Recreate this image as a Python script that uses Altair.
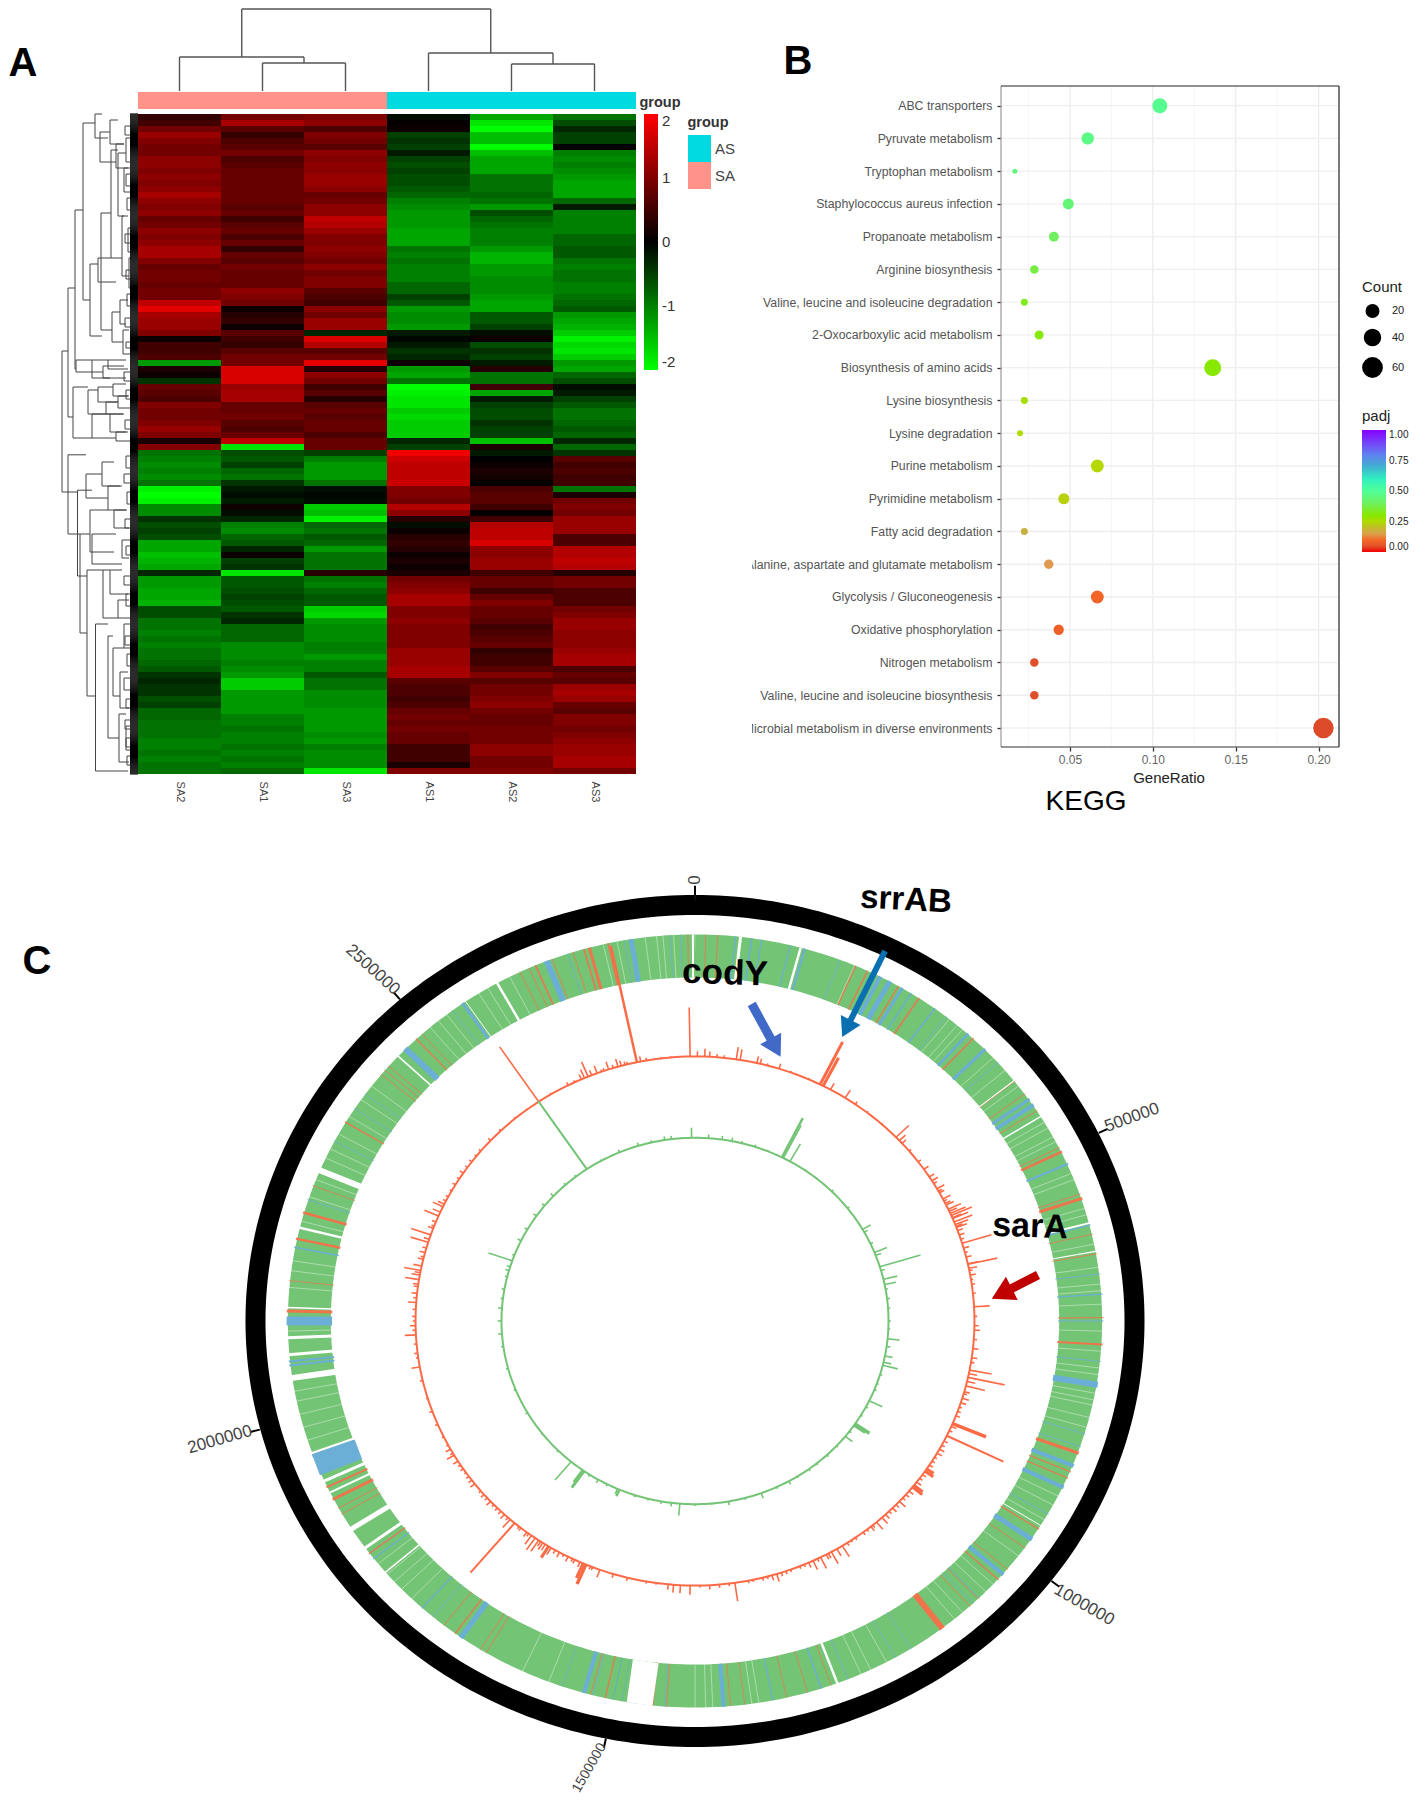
import math
import altair as alt
import pandas as pd

W, H = 1402, 1786
FONT = "Liberation Sans"

# ---------------- Panel A ----------------
SAMPLES = ["SA2", "SA1", "SA3", "AS1", "AS2", "AS3"]
SA2 = [.4,.5,.9,1.2,1.0,.9,.9,1.1,1.1,1.0,1.1,1.0,1.1,1.3,1.1,1.0,1.1,.8,.9,1.1,1.0,1.1,1.3,1.3,1.0,.8,.9,.9,.8,.9,.9,1.5,1.8,1.3,1.2,1.2,1.0,.1,.5,.5,.6,-1.2,.2,.1,-.4,.8,.7,.6,1.0,.9,.9,1.0,1.2,1.0,.2,1.0,-.9,-1.0,-1.1,-1.0,-1.1,-.9,-1.9,-2,-1.9,-1.1,-1.1,-.4,-.6,-.5,-.6,-1.3,-1.3,-1.5,-1.4,-1.3,-.3,-1.2,-1.2,-1.3,-1.3,-1.4,-.6,-.6,-.9,-.9,-1.0,-.9,-1.0,-.9,-.9,-.8,-.7,-.4,-.3,-.4,-.4,-.6,-.5,-.8,-.8,-.9,-.9,-.9,-1,-1.0,-.9,-1,-.9,-.9]
SA1 = [.9,1.3,.7,.4,.6,.7,.9,.6,.7,.8,.8,.8,.8,.8,.8,.7,.8,.5,.7,.8,.6,.8,.4,.8,.7,.9,.8,.8,.8,1.1,1.0,.9,.1,.3,.4,.1,.7,.5,.4,.7,.9,.9,1.7,1.7,1.7,1.2,1.3,1.3,.8,.8,.9,.7,.6,.8,1.5,-1.8,-.6,-.7,-.5,-.8,-.9,-.4,-.2,-.1,-.2,.1,-.1,-.3,-1,-1.1,-.8,-.7,-.3,.1,-.5,-.4,-1.8,-.7,-.7,-.6,-.5,-.6,-.7,-.4,-.3,-.8,-.8,-.8,-1.1,-1.1,-1.1,-1,-1.1,-1.2,-1.6,-1.6,-1.2,-1.2,-1.2,-1.2,-1,-1,-.9,-1,-1,-.9,-1,-.9,-1,-.8]
SA3 = [1.0,1.1,.6,1.0,.9,.7,1.1,1.0,1.1,1.1,1.2,1.2,1.1,.8,.9,1.1,1.1,1.5,1.4,1.2,1.0,1.0,1.1,1.0,.9,1.1,.9,1.0,1.0,.7,.6,.5,1.1,.9,1.2,1.2,-.3,1.7,1.4,.7,.9,1.8,.3,1.1,.9,.5,.7,.3,.7,.8,.7,.8,.8,.6,.8,.8,-.5,-1,-1.2,-1.2,-1.2,-.9,-.1,-.05,-.1,-1.6,-1.5,-1.9,-.8,-.9,-.7,-.8,-1.2,-.9,-.9,-.9,.3,-.9,-1,-.8,-.7,-.7,-1.6,-1.7,-1.2,-1.1,-1.1,-1.1,-1.0,-1.0,-1.2,-1,-1,-.7,-.9,-.9,-1.1,-1.1,-1.1,-1.2,-1.2,-1.2,-1.2,-1.1,-1.2,-1.0,-1.1,-1.1,-1.1,-1.8]
AS1 = [-.1,.05,.1,-.5,-.4,-.5,-.2,-.5,-.6,-.5,-.6,-.6,-.7,-.8,-1,-1.1,-1.2,-1.2,-1.2,-1.3,-1.3,-1.3,-.9,-1.0,-.9,-1,-1,-1,-.8,-.8,-.5,-.7,-1.2,-1.1,-1.1,-1.2,-.2,-.05,-.2,-.4,-.3,.1,-1.2,-1.3,-.9,-2,-1.9,-1.8,-1.8,-1.6,-1.7,-1.6,-1.6,-1.6,-.3,-.5,1.9,1.6,1.5,1.5,1.5,1.6,1.0,1,.9,1.4,1.1,.3,-.1,.1,.3,.4,.3,.1,.2,.1,.2,.9,1.0,1.1,1.3,1.3,1.0,1.0,1.1,1,1,1,1,1.2,1.2,1.2,1.3,1.3,.7,.6,.6,.5,.6,.8,.9,.8,.9,.8,.8,.5,.5,.5,.2,1.0]
AS2 = [-1.3,-1.8,-2,-1.5,-1.5,-2,-1.5,-1.3,-1.3,-1.3,-.9,-.9,-.9,-.8,-.9,-1.2,-.6,-.8,-.9,-1,-1,-1,-1.2,-1.4,-1.4,-1.2,-1.2,-1.1,-1.1,-1.1,-1.2,-1.3,-1.3,-.7,-.7,-.5,-.1,.1,-.6,-.4,-.5,-.2,.3,-.9,-.9,.5,-1.3,-.2,-.5,-.6,-.6,-.4,-.5,-.5,-1.5,.2,-.2,0,.1,.2,.15,0,.6,.7,.7,.5,.05,.5,1.4,1.5,1.5,1.7,1.1,1.1,1.2,1.2,.5,.8,.8,.5,.8,1,.8,.8,.7,.5,.6,.7,.8,.4,.5,.5,.7,1,.7,.9,.9,1,1.1,.9,.8,.8,.9,.9,.9,1.1,1.1,.9,.9,1.0]
AS3 = [-.9,-.6,-.3,-.5,-.5,0,-1,-1.1,-1.0,-1.1,-1.2,-1.3,-1.3,-1.3,-.8,-.2,-1,-1,-1,-1,-.8,-.8,-.7,-.7,-.9,-1,-.9,-.9,-1,-1,-.9,-.8,-.7,-1.2,-1.3,-1.4,-1.6,-1.9,-1.7,-1.8,-1.6,-1.2,-1.3,-.8,-.6,-.1,-.2,-.5,-.7,-.9,-.9,-.8,-.7,-.8,-.3,-.8,-.4,.7,.5,.6,.5,.5,-.9,.2,.9,1,.9,1.2,1.2,1.2,.6,.6,1.4,1.4,1.5,1.4,.3,.9,.9,.6,.6,.6,.9,1,1.2,1.2,1.1,1.1,1.1,1.2,1.3,1.3,.6,.8,.7,1.2,1.3,1.2,.8,.7,1,1,.9,1,1.1,1.2,1.2,1.3,1.3,.9]
HEAT = [SA2, SA1, SA3, AS1, AS2, AS3]

# column dendrogram: x-left, x-right, merge height, left child height, right child height
COL_LINKS = [(1.5, 2.5, 28, 0, 0), (0.5, 2, 34, 0, 28), (4.5, 5.5, 27, 0, 0), (3.5, 5, 38, 0, 27), (1.25, 4.25, 82, 34, 38)]

# row dendrogram: depth, row-top, row-bottom, depth of top child, depth of bottom child
ROW_LINKS = [
 (76,39.5,63,70,60.5),(70,29,50.5,63,65),(63,16,42.5,55,62),(55,1.5,31,43,48),(43,0,4,36,30),(38,3,8,28,22),
 (28,1,5,20,14),(22,5,9,14,10),(48,25,37,40,36),(40,24,28,27,22),(37,16.5,36,27,26),(27,6,24,20,16),(20,6.5,17,12,14),
 (16,17,27,10,9),(26,33,38,18,15),(14,9,13,8,8),(12,4,8,8,8),(10,19,23,7,7),(9,24,29,7,7),(18,31,35,10,12),(15,36,40,9,8),
 (62,41,43,46,35),(46,41,44,30,28),(65,45.5,54,50,46),(50,46,50,40,32),(46,50,54,28,22),(40,45.5,48,25,20),(32,48,50,20,14),
 (28,50,53,15,12),(22,53,54.5,10,8),(30,41,42.5,12,10),(35,42,44,14,12),(25,45,47,12,9),(20,47,49,10,8),
 (70,56.8,70,52,58),(58,70,86.5,48,51),(60.5,62.7,77,46,51),(51,76,97,35,42.5),(42.5,85,109.5,30,10),(52,60,64,36,30),
 (36,58,62,24,16),(30,62,66,18,12),(48,66,73,30,24),(46,70,75,22,16),(35,76,84,28,20),(28,76,80,16,10),(20,81,84,9,8),
 (30,87,104,25,19),(25,89,97,14,18),(19,100,108,12,9),(18,93,99,10,9),(14,85,89,8,8),(12,102,106,8,8),(24,66,69,11,9),(16,71,74,8,9),
 (13,2,3.5,8,8),(12,10,12,8,8),(11,14,16,8,8),(13,20,21.5,8,8),(12,26,27.5,8,8),(11,30,32,8,8),(13,34,35.5,8,8),(12,38,39,8,8),
 (14,43,44.5,8,8),(12,46,47.5,8,8),(13,51,52.5,8,8),(12,57,59,8,8),(14,60,61.5,8,8),(11,63,65,8,8),(13,67.5,69,8,8),(12,72,73.5,8,8),
 (14,77,78.5,8,8),(12,80,82,8,8),(13,87,88.5,8,8),(11,90,92,8,8),(14,94,96,8,8),(12,97.5,99,8,8),(13,101,102.5,8,8),(12,104,105.5,8,8),(11,107,108.5,8,8),
]

GROUP_KEYS = ["AS", "SA"]
GROUP_COLORS = ["#00dae0", "#ff9289"]

# ---------------- Panel B ----------------
PATHWAYS = ["ABC transporters","Pyruvate metabolism","Tryptophan metabolism","Staphylococcus aureus infection","Propanoate metabolism",
 "Arginine biosynthesis","Valine, leucine and isoleucine degradation","2-Oxocarboxylic acid metabolism","Biosynthesis of amino acids",
 "Lysine biosynthesis","Lysine degradation","Purine metabolism","Pyrimidine metabolism","Fatty acid degradation",
 "Alanine, aspartate and glutamate metabolism","Glycolysis / Gluconeogenesis","Oxidative phosphorylation","Nitrogen metabolism",
 "Valine, leucine and isoleucine biosynthesis","Microbial metabolism in diverse environments"]
RATIO = [.1042,.0607,.0168,.049,.0403,.0285,.0225,.0314,.1361,.0225,.0199,.0665,.0463,.0225,.0372,.0665,.0432,.0285,.0285,.2029]
COUNT = [35,20,6,16,13,10,8,11,46,8,7,22,16,8,12,22,14,10,10,68]
PADJ = [.48,.47,.45,.44,.40,.37,.33,.31,.30,.26,.25,.24,.23,.18,.14,.09,.08,.04,.04,.03]
PADJ_STOPS = [0,.03,.1,.14,.18,.24,.3,.4,.5,.6,.7,.8,1]
PADJ_COLORS = ["#f00000","#dc4a2a","#f46a28","#e09a50","#c8b040","#b5d800","#88e800","#70f060","#50ff98","#30f0c0","#40b0d0","#6080f0","#8800ff"]
MAJOR = [.05,.10,.15,.20]
MINOR = [.025,.075,.125,.175]

# ---------------- Panel C ----------------
GENOME = 2821000
TICKS = [0, 500000, 1000000, 1500000, 2000000, 2500000]
TICK_R = [1.035, 1.082, 1.092, 1.075, 1.092, 1.092]
TICK_ANGLE = [270, 340, 30, 300, 344, 42]
TICK_SHIFT = [0, 0, 0, 1.2, 0, 0]
TICK_FONT = [17, 17, 17, 14, 17, 17]

BLUE_STRIPES = [(5.7,1.2),(8,1.5),(9.4,1.2),(13.5,1.2),(15.6,2),(20.8,.8),(26,3),(27,4),(28.5,5),(30.5,3),(32,1.5),(36,1.5),(38,.8),(42,2.5),(45.3,3),(48,.8),
 (55,3),(56,4),(66,2),(75.6,1.2),(83,.8),(86,1.2),(90,1.2),(96,.8),(99.5,6),(107,.8),(109,.8),(112,4),(115.5,4),(120,.8),(124.4,5),(131,4),(135.8,.8),(137,.8),
 (148,.7),(150.6,.7),(158,.8),(162,1.5),(169,1.2),(176,4),(184.3,.7),(194.5,.8),(195.8,4),(199,.7),(215,5),(220,.8),(222,1.2),(232,1.2),(233,.8),(248,20),
 (249.6,3),(263.4,2),(264,2),(270,9),(281,1.5),(288.3,.8),(297.8,.7),(303.4,.7),(306,.7),(314.8,6),(323.5,.8),(325.3,3),(338.7,6),(341.8,.8),(350,.8),(351,5),(358,.8),(356.5,.8)]
RED_STRIPES = [(1.5,.8),(3.2,.8),(23.2,1.2),(25,1.2),(29.9,1.2),(33.3,1.5),(43,1.2),(51.6,.8),(54,.8),(57,.8),(63.3,.8),(64,2.5),(70.8,.8),(71.5,3),(77,.7),(80,.8),(89.5,1),
 (93.5,2),(110,3),(113,1.2),(114,1.2),(122.6,1.2),(126,.8),(130,.8),(132,1.2),(136,.8),(137.6,.8),(142.7,6),(160.5,.7),(164,.7),(167,.7),(173,.7),(175,.8),
 (184,.8),(186,2),(192.7,1.2),(194.8,.8),(210.8,.8),(211.7,.8),(216,1.2),(218,.8),(233,1.2),(240,.8),(241,.8),(242.5,3),(244.5,2),(271.5,3),(276,.7),(282.3,2.5),(286.3,2.5),(290.5,.7),
 (301,1.2),(309.7,.8),(310.5,.8),(311.3,.8),(316.9,1.2),(318,.8),(334.6,.8),(336,.8),(337,1.5),(339.5,.8),(342.6,.8),(344.2,1.5),(345,3),(347.7,1.5),(359,.8)]
WHITE_STRIPES = [(6.4,3),(15,2.5),(51.5,1.2),(58,1.5),(75.3,2),(79.6,1.2),(122,1),(159.6,2.5),(187.8,26),(229.4,1.5),(234,3),
 (237.4,5),(243.6,2),(245.5,3),(250,2),(261.5,6),(265,3),(267.5,3),(272,1.5),(284,2.5),(293,6),(313.3,1.5),(325.8,1),(331,2.5),(359.7,2)]
# faint, broken light lines across the band
PALE_STRIPES = [23,38.6,40,41,47,49.5,52.5,59,60,61.5,62.3,67.5,68.5,73,74,78.5,82,84.5,85.5,87.5,91.5,94.5,97,98,100.8,101.8,102.6,104.5,106,117,118.5,121,127.5,133,134.5,139,140.5,152,154.5,156,171,172,177.5,178.5,180,201,205,224,226,227.5,229,231,252,254,256,258,259.5,268.5,275,277.5,279,285,288.8,291.5,295,296.5,299,302,305,307.5,319.5,321,322.5,328,329.5,333,347,349,353,354.6,355.5,357]
TEAL_STRIPES = [(191.6,1.2),(190.3,.8)]

RED_SPIKES = [(0.5,.02),(2,.03),(3,.02),(4.5,.012),(6,.01),(8.5,.047),(9.3,.04),(12.8,.026),(13.5,.02),(15,.008),(17.5,.02),(20,.006),(24,.006),(26.6,.18),(27.3,.12),(29,.027),(32.5,.034),(35,.012),(38,.006),(42,.005),(46,.064),(47,.03),(47.8,.02),(50,.01),(53,.012),(55,.02),(57,.02),(58,.025),(58.7,.013),(60,.03),(61,.02),(62.5,.03),(64,.03),(65,.05),(66,.06),(66.5,.08),(67.2,.06),(68,.07),(68.6,.05),(69.3,.04),(70,.02),(71,.02),(72.9,.11),(74,.02),(76,.02),(77.5,.04),(77.6,.107),(78.5,.03),(80,.02),(82,.012),(84,.01),(86.9,.056),(89,.01),(91,.015),(92,.02),(94,.012),(96,.02),(98,.02),(99,.012),(100.7,.08),(101.5,.03),(102.3,.134),(103.2,.03),(104.2,.07),(105.5,.02),(107,.025),(108,.02),(110,.012),(112.8,.13),(113.5,.02),(115.7,.225),(117,.015),(119,.02),(120,.02),(122,.012),(124,.03),(124.6,.036),(126.5,.012),(128.4,.04),(128.9,.045),(131,.015),(133,.03),(135,.02),(137,.02),(138,.03),(139.5,.035),(141,.02),(143,.012),(146,.008),(148.2,.048),(149.5,.03),(150.8,.05),(152,.02),(153.3,.047),(155,.037),(156,.02),(158,.01),(161,.012),(163,.03),(164,.02),(166,.012),(169,.01),(171.8,.07),(173,.01),(175,.012),(177,.016),(179,.008),(181,.035),(183,.03),(184.4,.03),(185.5,.02),(188,.006),(190,.008),(194,.012),(197,.015),(199.9,.03),(201.5,.012),(203,.08),(203.6,.06),(205.5,.015),(207,.02),(209,.02),(211,.03),(211.6,.05),(213,.03),(214,.05),(214.9,.054),(215.8,.04),(217,.02),(218.5,.012),(220.2,.245),(221.4,.04),(223,.02),(225,.012),(227,.02),(229,.015),(232,.02),(233,.015),(236,.012),(238,.02),(239.5,.03),(241,.02),(244,.008),(247,.01),(250,.012),(253,.006),(257,.01),(260,.03),(263,.012),(267,.04),(269,.02),(271,.012),(274,.03),(276,.02),(277.5,.015),(279,.05),(280,.03),(281,.06),(282,.03),(283.5,.02),(285,.02),(287.3,.066),(288,.02),(289,.074),(290.5,.02),(292,.015),(293.4,.055),(294.3,.03),(295.6,.04),(296.2,.025),(298,.01),(301,.012),(304,.015),(307,.012),(310,.01),(313,.012),(316,.008),(320,.006),(323,.005),(326,.25),(329,.006),(333,.012),(334.5,.008),(336,.02),(336.7,.035),(337.5,.06),(338.3,.02),(339.5,.03),(341,.01),(342,.03),(344,.03),(344.7,.02),(346,.01),(348,.45),(348.8,.02),(350,.01),(353,.006),(355,.005),(359,.185),
 (60.6,.014),(63,.012),(63.6,.02),(65.5,.03),(67,.035),(69,.025),(72,.012),(75,.01),(79,.012),(81,.008),(106,.012),(109,.01),(111,.015),(114.5,.012),(118,.012),(121,.01),(123,.015),(125.5,.015),(127.5,.02),(130,.02),(132,.012),(134,.015),(136,.012),(140.5,.012),(142,.01),(145,.01),(147,.012),(151.5,.02),(154,.012),(157,.01),(160,.01),(162,.014),(165,.01),(168,.008),(202,.012),(204.3,.02),(206,.012),(208,.01),(210,.015),(212.4,.025),(213.5,.02),(216.5,.012),(219,.01),(222,.012),(224,.014),(226,.01),(228,.012),(230,.01),(234,.012),(235,.008),(237,.01),(240,.012),(242,.008),(262,.008),(265,.01),(268,.012),(270,.01),(272.5,.012),(275,.012),(278,.02),(280.5,.02),(284,.012),(286,.015),(291,.01),(297,.012),(299.5,.008),(302.5,.01),(305.5,.01),(308.5,.008),(340.5,.008),(343,.012),(345.5,.012)]
RED_THICK = {26.6: 3, 27.3: 3, 112.8: 3.5, 124: 3, 124.6: 3, 128.4: 3, 128.9: 3, 203: 3.5, 203.6: 3, 211.6: 3, 348: 2.5, 220.2: 2, 115.7: 2}
GREEN_SPIKES = [(359,.055),(26.7,.24),(27.2,.2),(29.4,.11),(4,.02),(8,.02),(11,.02),(14,.012),(18,.012),(22,.008),(35,.006),(45,.012),(52,.012),(60,.048),(61,.02),(65,.015),(68,.07),(69,.03),(72.8,.22),(74,.02),(76.8,.073),(78.5,.06),(80,.012),(83,.015),(86,.012),(90,.012),(92.5,.01),(95.6,.062),(98,.02),(101,.04),(103,.04),(104,.08),(107,.012),(110,.01),(112,.012),(115.8,.075),(118,.012),(121,.01),(124.2,.09),(124.7,.07),(127,.012),(129,.047),(133,.01),(137,.012),(141,.01),(144,.012),(148,.008),(151,.02),(155,.01),(160,.03),(165,.01),(170,.02),(175,.008),(180,.01),(184.5,.065),(187,.02),(190,.015),(194,.01),(198,.012),(203,.04),(203.6,.03),(207,.012),(210,.02),(213,.012),(215,.11),(215.5,.08),(219.8,.13),(225,.01),(232,.008),(240,.012),(248,.01),(255,.012),(262,.012),(266,.02),(270,.02),(274,.02),(277,.012),(280,.015),(284,.012),(286,.02),(287.2,.018),(289.2,.13),(291,.012),(296,.02),(300,.016),(305,.02),(309,.018),(313,.02),(318,.012),(322,.01),(326,.45),(331,.008),(337,.015),(343,.018),(347,.012),(351,.02),(353,.018),(356,.006)]
GREEN_THICK = {26.7: 2.5, 124.2: 3.5, 124.7: 3, 215: 3, 215.5: 2.5, 203: 2.5, 326: 2}

RED, GREEN, BLUE, TEAL = "#fc6b47", "#74c476", "#6baed6", "#63b5ae"
R_RING, R_BAND, R_BAND_IN, R_BAND_OUT, R_RED, R_GREEN = .9767, .857, .808, .906, .621, .43

# ---------------- helpers ----------------
def one():
    return pd.DataFrame({"t": [""]})

def text(s, x, y, size, bold=False, angle=0, color="black", align="center"):
    return alt.Chart(pd.DataFrame({"t": [s]})).mark_text(
        fontSize=size, font=FONT, fontWeight="bold" if bold else "normal",
        angle=angle % 360, color=color, align=align, baseline="middle",
    ).encode(x=alt.value(x - 8), y=alt.value(y - 8), text="t:N")

def seg(x0, y0, x1, y1, color, width):
    return alt.Chart(one()).mark_rule(color=color, strokeWidth=width).encode(
        x=alt.value(x0 - 8), y=alt.value(y0 - 8), x2=alt.value(x1 - 8), y2=alt.value(y1 - 8))

def arrow(x0, y0, x1, y1, color, shaft, head):
    dx, dy = x1 - x0, y1 - y0
    n = math.hypot(dx, dy)
    ang = math.degrees(math.atan2(dx, -dy)) % 360
    cx, cy = x1 - dx / n * head * .38, y1 - dy / n * head * .38
    return [seg(x0, y0, cx, cy, color, shaft),
            alt.Chart(one()).mark_point(shape="triangle-up", filled=True, size=head * head, angle=ang, color=color, opacity=1, strokeWidth=0)
            .encode(x=alt.value(cx - 8), y=alt.value(cy - 8))]

def sx(dom, rng):
    return alt.Scale(domain=dom, range=rng, nice=False, zero=False)

layers = []

# ---- A: heatmap ----
heat = pd.DataFrame([{"sample": s, "row": i, "row2": i + 1, "v": v} for s, col in zip(SAMPLES, HEAT) for i, v in enumerate(col)])
band = alt.Scale(domain=SAMPLES, range=[130, 628], paddingInner=0, paddingOuter=0)
rowsc = sx([0, 110], [106, 766])
heat_scale = alt.Scale(domain=[-2, 0, 2], range=["#00ff00", "#000000", "#ff0000"], interpolate="rgb")
layers.append(alt.Chart(heat).mark_rect().encode(
    x=alt.X("sample:N", scale=band, axis=None, sort=None),
    y=alt.Y("row:Q", scale=rowsc, axis=None), y2="row2:Q",
    color=alt.Color("v:Q", scale=heat_scale,
        legend=alt.Legend(orient="none", legendX=636, legendY=106, title=None, direction="vertical", gradientLength=256,
            gradientThickness=14, values=[-2, -1, 0, 1, 2], labelFontSize=15, labelOffset=4, labelFont=FONT, labelColor="#333",
            labelExpr="datum.value + ''", gradientStrokeWidth=0, padding=0))))
layers.append(alt.Chart(pd.DataFrame({"sample": SAMPLES})).mark_text(fontSize=11, font=FONT, angle=90, color="#444", baseline="middle", align="center").encode(
    x=alt.X("sample:N", scale=band, axis=None, sort=None), y=alt.value(784), text="sample:N"))
# annotation bar
colsc = sx([0, 6], [130, 628])
layers.append(alt.Chart(pd.DataFrame({"g": ["SA", "AS"], "a": [0, 3], "b": [3, 6], "c": [GROUP_COLORS[1], GROUP_COLORS[0]]})).mark_rect().encode(
    x=alt.X("a:Q", scale=colsc, axis=None), x2="b:Q", y=alt.value(84), y2=alt.value(101), color=alt.Color("c:N", scale=None)))
# column dendrogram
csegs = []
for xl, xr, h, hl, hr in COL_LINKS:
    csegs += [dict(x=xl, x2=xr, y=h, y2=h), dict(x=xl, x2=xl, y=hl, y2=h), dict(x=xr, x2=xr, y=hr, y2=h)]
layers.append(alt.Chart(pd.DataFrame(csegs)).mark_rule(color="#555", strokeWidth=1.4).encode(
    x=alt.X("x:Q", scale=colsc, axis=None), x2="x2:Q",
    y=alt.Y("y:Q", scale=sx([0, 82], [83, 1]), axis=None), y2="y2:Q"))
# row dendrogram
rsegs = []
for d, r1, r2, d1, d2 in ROW_LINKS:
    rsegs += [dict(d=d, d2=d, r=r1, r2=r2), dict(d=d, d2=d1, r=r1, r2=r1), dict(d=d, d2=d2, r=r2, r2=r2)]
dsc = sx([0, 76], [130, 54])
layers.append(alt.Chart(pd.DataFrame(rsegs)).mark_rule(color="#444", strokeWidth=1).encode(
    x=alt.X("d:Q", scale=dsc, axis=None), x2="d2:Q",
    y=alt.Y("r:Q", scale=rowsc, axis=None), y2="r2:Q"))
layers.append(alt.Chart(alt.sequence(0, 110, .17, as_="row")).transform_calculate(d0="0", d1="8").mark_rule(color="#000", strokeWidth=1.2).encode(
    x=alt.X("d0:Q", scale=dsc, axis=None), x2="d1:Q", y=alt.Y("row:Q", scale=rowsc, axis=None)))
# group legend
layers.append(alt.Chart(pd.DataFrame({"k": GROUP_KEYS, "c": GROUP_COLORS, "a": [0, 1], "b": [1, 2]})).mark_rect().encode(
    x=alt.value(680), x2=alt.value(703),
    y=alt.Y("a:Q", scale=sx([0, 2], [127, 181]), axis=None), y2="b:Q", color=alt.Color("c:N", scale=None)))
layers.append(alt.Chart(pd.DataFrame({"k": GROUP_KEYS, "a": [.5, 1.5]})).mark_text(fontSize=15, font=FONT, color="#444", align="left", baseline="middle").encode(
    x=alt.value(707), y=alt.Y("a:Q", scale=sx([0, 2], [127, 181]), axis=None), text="k:N"))
layers += [text("group", 660, 103, 14.5, True, color="#333"), text("group", 708, 123, 14.5, True, color="#333")]

# ---- B: dot plot ----
bx = sx([.0084, .2123], [993, 1331])
by = alt.Scale(type="point", domain=PATHWAYS, range=[97.7, 720], padding=0)
dots = pd.DataFrame({"path": PATHWAYS, "ratio": RATIO, "count": COUNT, "padj": PADJ})
layers.append(alt.Chart(pd.DataFrame({"v": MINOR})).mark_rule(color="#f4f4f4", strokeWidth=.8).encode(
    x=alt.X("v:Q", scale=bx, axis=None), y=alt.value(78), y2=alt.value(739)))
layers.append(alt.Chart(pd.DataFrame({"v": MAJOR})).mark_rule(color="#ececec", strokeWidth=1.3).encode(
    x=alt.X("v:Q", scale=bx, axis=None), y=alt.value(78), y2=alt.value(739)))
layers.append(alt.Chart(pd.DataFrame({"path": PATHWAYS})).mark_rule(color="#efefef", strokeWidth=1.3).encode(
    y=alt.Y("path:N", scale=by, axis=None), x=alt.value(993), x2=alt.value(1331)))
layers.append(alt.Chart(dots).mark_point(filled=True, opacity=1).encode(
    x=alt.X("ratio:Q", scale=bx, axis=alt.Axis(orient="bottom", offset=-(H - 739), values=MAJOR, format=".2f", title=None, grid=False, domain=False,
        tickColor="#333", tickWidth=1.3, tickSize=4, labelFontSize=12, labelColor="#666", labelFont=FONT, labelPadding=3)),
    y=alt.Y("path:N", scale=by, axis=alt.Axis(orient="left", offset=-993, title=None, grid=False, domain=False, labelLimit=320,
        tickColor="#333", tickWidth=1.3, tickSize=4, labelFontSize=12.3, labelColor="#555", labelFont=FONT, labelPadding=5)),
    size=alt.Size("count:Q", scale=alt.Scale(domain=[6, 10, 20, 35, 46, 68], range=[25, 72, 156, 225, 289, 420]),
        legend=alt.Legend(orient="none", legendX=1354, legendY=272, title="Count", titleFontSize=15, titleFont=FONT, titleFontWeight="normal", titleColor="#222", titlePadding=9,
            values=[20, 40, 60], symbolFillColor="black", symbolStrokeColor="black", symbolOpacity=1, symbolType="circle", rowPadding=5.5,
            labelFontSize=11, labelFont=FONT, labelColor="#222", labelOffset=9, padding=0)),
    color=alt.Color("padj:Q", scale=alt.Scale(domain=PADJ_STOPS, range=PADJ_COLORS, interpolate="rgb"),
        legend=alt.Legend(orient="none", legendX=1354, legendY=401, title="padj", titleFontSize=15, titleFont=FONT, titleFontWeight="normal", titleColor="#222", titlePadding=6,
            direction="vertical", gradientLength=122, gradientThickness=24, values=[0, .25, .5, .75, 1], format=".2f",
            labelFontSize=10, labelFont=FONT, labelColor="#222", labelOffset=3, gradientStrokeWidth=0, padding=0))))
# left labels are cut off in the original
layers.append(alt.Chart(one()).mark_rect(color="white").encode(x=alt.value(700), x2=alt.value(744), y=alt.value(540), y2=alt.value(735)))
layers += [seg(1001, 86, 1001, 747, "#999", 1.2), seg(1001, 86, 1339, 86, "#222", 1.2), seg(1339, 86, 1339, 747, "#222", 1.2), seg(1001, 747, 1339, 747, "#333", 1.2)]
layers += [text("GeneRatio", 1169, 778, 15, color="#222"), text("KEGG", 1086, 802, 28)]

# ---- C: circular plot ----
cx = sx([-1, 1], [237, 1137])
cy = sx([-1, 1], [1739, 887])

def ellipse(r):
    return alt.Chart(alt.sequence(0, 361, 1, as_="deg")).transform_calculate(
        px=f"sin(datum.deg*PI/180)*{r}", py=f"cos(datum.deg*PI/180)*{r}")

XC = alt.X("px:Q", scale=cx, axis=None)
YC = alt.Y("py:Q", scale=cy, axis=None)

def radial(df):
    return alt.Chart(df).transform_calculate(
        px="sin(datum.deg*PI/180)*datum.r0", py="cos(datum.deg*PI/180)*datum.r0",
        qx="sin(datum.deg*PI/180)*datum.r1", qy="cos(datum.deg*PI/180)*datum.r1")

layers.append(ellipse(R_RING).mark_line(color="black", strokeWidth=20).encode(x=XC, y=YC, order="deg:Q"))
layers.append(ellipse(R_BAND).mark_line(color=GREEN, strokeWidth=43).encode(x=XC, y=YC, order="deg:Q"))
pale = [(d, .8) for d in PALE_STRIPES]
for stripes, col, op in [(pale, "white", .5), (BLUE_STRIPES, BLUE, 1), (RED_STRIPES, RED, .9), (WHITE_STRIPES, "white", 1), (TEAL_STRIPES, TEAL, 1)]:
    df = pd.DataFrame([{"deg": d, "w": w, "r0": R_BAND_IN - .0015, "r1": R_BAND_OUT + .0015} for d, w in stripes])
    layers.append(radial(df).mark_rule(color=col, opacity=op).encode(
        x=XC, y=YC, x2="qx:Q", y2="qy:Q", strokeWidth=alt.StrokeWidth("w:Q", scale=None)))

for spikes, thick, r, col in [(RED_SPIKES, RED_THICK, R_RED, RED), (GREEN_SPIKES, GREEN_THICK, R_GREEN, GREEN)]:
    df = pd.DataFrame([{"deg": d, "w": thick.get(d, 1.6), "r0": r, "r1": r * (1 + v)} for d, v in spikes])
    layers.append(ellipse(r).mark_line(color=col, strokeWidth=2).encode(x=XC, y=YC, order="deg:Q"))
    layers.append(radial(df).mark_rule(color=col).encode(
        x=XC, y=YC, x2="qx:Q", y2="qy:Q", strokeWidth=alt.StrokeWidth("w:Q", scale=None)))

tick_df = pd.DataFrame({"pos": TICKS, "r0": [1.0] * 6, "r1": [1.022] * 6, "lab": [str(t) for t in TICKS], "rl": TICK_R,
                        "ang": TICK_ANGLE, "fs": TICK_FONT, "shift": TICK_SHIFT})
tick_df["deg"] = tick_df["pos"] / GENOME * 360
layers.append(radial(tick_df).mark_rule(color="black", strokeWidth=2).encode(x=XC, y=YC, x2="qx:Q", y2="qy:Q"))
layers.append(alt.Chart(tick_df).transform_calculate(
    px="sin((datum.deg+datum.shift)*PI/180)*datum.rl", py="cos((datum.deg+datum.shift)*PI/180)*datum.rl").mark_text(
    font=FONT, color="#444", baseline="middle", align="center").encode(
    x=XC, y=YC, text="lab:N", angle=alt.Angle("ang:Q", scale=None), size=alt.Size("fs:Q", scale=None)))

layers += [text("srrAB", 906, 900, 33, True, 3), text("codY", 725, 973, 35, True, 2), text("sarA", 1030, 1227, 34, True, 2)]
layers += arrow(751.7, 1004, 780, 1055.7, "#4169c8", 9, 24)
layers += arrow(885, 951, 842.7, 1036, "#0a6fb0", 6, 22)
layers += arrow(1038, 1275, 993, 1298, "#c00000", 9, 26)

# panel letters
layers += [text("A", 23, 64, 40, True), text("B", 798, 62, 40, True), text("C", 37, 962, 40, True)]

chart = alt.layer(*layers).resolve_scale(x="independent", y="independent", color="independent", size="independent").properties(
    width=W, height=H, padding=0, autosize=alt.AutoSizeParams(type="none"), background="white",
).configure_view(stroke=None)

chart.save("out.html", embed_options={"renderer": "svg", "actions": False})
